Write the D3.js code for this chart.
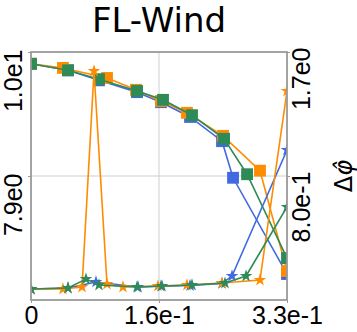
<!DOCTYPE html>
<html>
<head>
<meta charset="utf-8">
<script src="https://cdn.jsdelivr.net/npm/d3@7"></script>
<style>
  body { margin: 0; background: #fff; }
  svg { font-family: "DejaVu Sans", sans-serif; }
</style>
</head>
<body>
<div id="chart"></div>
<script>
// --- data ---
const blueSqX   = [0, 0.047, 0.0863, 0.1346, 0.165, 0.2019, 0.2425, 0.2565, 0.325];
const blueSqY   = [9.80, 9.69, 9.52, 9.32, 9.15, 8.90, 8.49, 7.87, 6.24];
const orangeSqX = [0, 0.0406, 0.0965, 0.1333, 0.165, 0.198, 0.2438, 0.2907, 0.325];
const orangeSqY = [9.80, 9.73, 9.56, 9.36, 9.17, 8.97, 8.58, 7.99, 6.29];
const greenSqX  = [0, 0.047, 0.0863, 0.1346, 0.1676, 0.2044, 0.2451, 0.2743, 0.325];
const greenSqY  = [9.80, 9.69, 9.54, 9.34, 9.19, 8.93, 8.53, 7.93, 6.51];

const blueStX   = [0, 0.047, 0.0825, 0.1359, 0.165, 0.2019, 0.2425, 0.2552, 0.325];
const blueStY   = [-0.02, -0.013, 0.031, -0.006, 0.0, 0.005, 0.02, 0.074, 0.989];
const orangeStX = [0, 0.0406, 0.0648, 0.080, 0.0965, 0.1168, 0.1612, 0.198, 0.2425, 0.2907, 0.325];
const orangeStY = [-0.02, -0.02, -0.006, 1.562, 0.016, -0.006, 0.002, 0.009, 0.023, 0.045, 1.417];
const greenStX  = [0, 0.047, 0.0698, 0.0863, 0.1346, 0.1663, 0.2044, 0.2463, 0.273, 0.325];
const greenStY  = [-0.02, -0.013, 0.052, 0.009, -0.006, 0.002, 0.009, 0.023, 0.074, 0.575];

const xTicks = [0, 0.1625, 0.325];
const xTickLabels = ["0", "1.6e-1", "3.3e-1"];
const leftTicks = [7.9, 10.0];
const leftTickLabels = ["7.9e0", "1.0e1"];
const rightTicks = [0.8, 1.7];
const rightTickLabels = ["8.0e-1", "1.7e0"];

const W = 357, H = 332;
const m = { left: 31, right: 70, top: 52, bottom: 32 };
const iw = W - m.left - m.right, ih = H - m.top - m.bottom;

const svg = d3.select("#chart").append("svg").attr("width", W).attr("height", H);

const x = d3.scaleLinear().domain([0, 0.325]).range([m.left, m.left + iw]);
const yL = d3.scaleLinear().domain([5.8, 10.0]).range([m.top + ih, m.top]);
const yR = d3.scaleLinear().domain([-0.1, 1.7]).range([m.top + ih, m.top]);

// title
svg.append("text")
    .attr("x", m.left + iw / 2).attr("y", 32)
    .attr("text-anchor", "middle")
    .attr("font-size", 34)
    .text("FL-Wind");

// grid
svg.append("g").selectAll("line").data(xTicks.slice(1, 2)).join("line")
    .attr("x1", d => x(d)).attr("x2", d => x(d))
    .attr("y1", m.top).attr("y2", m.top + ih)
    .attr("stroke", "#cfcfcf").attr("stroke-width", 1);
svg.append("g").selectAll("line").data(leftTicks.slice(0, 1)).join("line")
    .attr("x1", m.left).attr("x2", m.left + iw)
    .attr("y1", d => yL(d)).attr("y2", d => yL(d))
    .attr("stroke", "#cfcfcf").attr("stroke-width", 1);

// clip for data
svg.append("clipPath").attr("id", "clip").append("rect")
    .attr("x", m.left).attr("y", m.top).attr("width", iw).attr("height", ih);

const plot = svg.append("g").attr("clip-path", "url(#clip)");

const series = [
    { xs: blueSqX, ys: blueSqY, y: yL, color: "#4169E1", mark: "square" },
    { xs: orangeSqX, ys: orangeSqY, y: yL, color: "#FF8C00", mark: "square" },
    { xs: greenSqX, ys: greenSqY, y: yL, color: "#2E8B57", mark: "square" },
    { xs: blueStX, ys: blueStY, y: yR, color: "#4169E1", mark: "star" },
    { xs: orangeStX, ys: orangeStY, y: yR, color: "#FF8C00", mark: "star" },
    { xs: greenStX, ys: greenStY, y: yR, color: "#2E8B57", mark: "star" }
];

series.forEach(s => {
    const pts = s.xs.map((v, i) => [v, s.ys[i]]);
    const line = d3.line().x(d => x(d[0])).y(d => s.y(d[1]));
    plot.append("path")
        .attr("d", line(pts))
        .attr("fill", "none")
        .attr("stroke", s.color)
        .attr("stroke-width", 1.6);
    const sym = s.mark === "square"
        ? d3.symbol().type(d3.symbolSquare).size(140)
        : d3.symbol().type(d3.symbolStar).size(50);
    plot.append("g").selectAll("path").data(pts).join("path")
        .attr("transform", d => `translate(${x(d[0])},${s.y(d[1])})`)
        .attr("d", sym())
        .attr("fill", s.color);
});

// spines
svg.append("rect")
    .attr("x", m.left).attr("y", m.top).attr("width", iw).attr("height", ih)
    .attr("fill", "none").attr("stroke", "#9a9a9a").attr("stroke-width", 1.8);

// axes
const styleAxis = g => {
    g.select(".domain").remove();
    g.selectAll(".tick line").attr("stroke", "#9a9a9a").attr("stroke-width", 1);
    g.selectAll("text").attr("font-size", 25).attr("fill", "#000");
};

svg.append("g")
    .attr("transform", `translate(0,${m.top + ih})`)
    .call(d3.axisBottom(x).tickValues(xTicks).tickFormat((d, i) => xTickLabels[i]).tickSize(3))
    .call(styleAxis)
    .call(g => g.selectAll("text").attr("dy", "0.75em").attr("y", 5));

svg.append("g")
    .attr("transform", `translate(${m.left},0)`)
    .call(d3.axisLeft(yL).tickValues(leftTicks).tickFormat((d, i) => leftTickLabels[i]).tickSize(3))
    .call(styleAxis)
    .call(g => g.selectAll("text")
        .attr("transform", "rotate(-90)")
        .attr("text-anchor", "end")
        .attr("x", 3).attr("y", -18).attr("dy", "0.36em"));

svg.append("g")
    .attr("transform", `translate(${m.left + iw},0)`)
    .call(d3.axisRight(yR).tickValues(rightTicks).tickFormat((d, i) => rightTickLabels[i]).tickSize(3))
    .call(styleAxis)
    .call(g => g.selectAll("text")
        .attr("transform", "rotate(-90)")
        .attr("text-anchor", "end")
        .attr("x", 5).attr("y", 14).attr("dy", "0.36em"));

// right axis label
const lab = svg.append("text")
    .attr("transform", `translate(352,${m.top + ih / 2}) rotate(-90)`)
    .attr("text-anchor", "middle")
    .attr("font-size", 24);
lab.append("tspan").text("Δ");
lab.append("tspan").attr("font-style", "italic").text("φ\u0302");
</script>
</body>
</html>
